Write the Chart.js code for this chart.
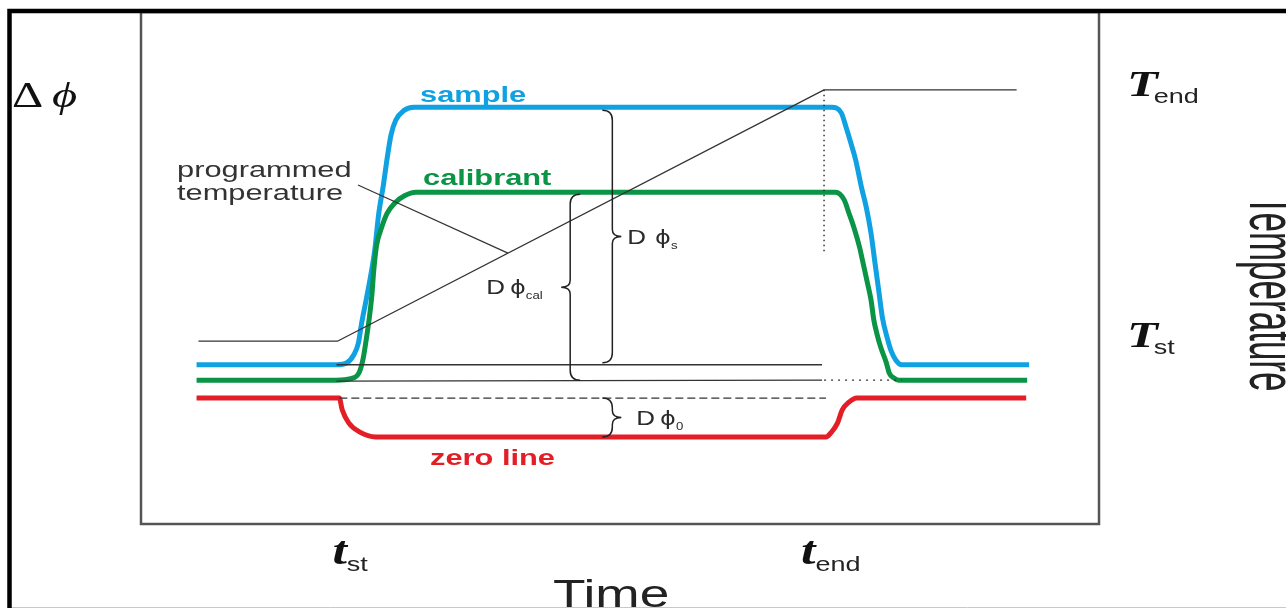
<!DOCTYPE html>
<html>
<head>
<meta charset="utf-8">
<script src="https://cdn.jsdelivr.net/npm/chart.js@4.4.1/dist/chart.umd.min.js"></script>
<style>
  html, body { margin: 0; padding: 0; background: #fff; overflow: hidden; }
  #wrap { position: relative; width: 1286px; height: 608px; }
</style>
</head>
<body>
<div id="wrap"><canvas id="dscChart"></canvas></div>
<script>
// time runs 0..100 and the heat-flow signal (delta phi) 0..100, arbitrary units
const sampleT = [5.8, 20.4, 21.5, 22.2, 22.7, 23.0, 23.4, 23.9, 24.4, 24.8, 25.3, 25.7, 26.1, 26.6, 27.4, 28.5,
                 72.1, 73.1, 73.6, 74.1, 74.6, 75.2, 75.7, 76.2, 76.6, 77.0, 77.4, 77.9, 78.3, 78.8, 79.4, 92.7];
const sampleDphi = [31.1, 31.1, 31.5, 33.0, 35.4, 38.9, 42.8, 47.7, 53.5, 60.4, 66.2, 71.5, 76.0, 78.9, 80.7, 81.4,
                    81.4, 80.3, 77.5, 74.4, 71.1, 65.8, 61.9, 56.8, 51.2, 45.7, 40.2, 36.3, 33.8, 32.0, 31.1, 31.1];

const calT = [5.8, 20.4, 21.9, 22.8, 23.2, 23.5, 23.8, 24.1, 24.3, 24.6, 25.1, 25.7, 26.5, 27.5, 28.7,
              72.5, 73.4, 73.9, 74.4, 75.0, 75.3, 75.8, 76.2, 76.5, 76.8, 77.2, 77.8, 78.1, 78.6, 79.1, 92.5];
const calDphi = [28.1, 28.1, 28.4, 29.7, 32.4, 35.9, 39.8, 44.7, 49.6, 54.5, 57.8, 60.7, 62.7, 64.1, 64.8,
                 64.8, 63.3, 60.7, 58.0, 54.1, 51.6, 47.3, 43.8, 39.8, 37.3, 34.6, 31.5, 29.5, 28.5, 28.1, 28.1];

const zeroT = [5.8, 20.7, 21.0, 21.7, 22.8, 24.5, 71.5, 72.1, 72.7, 73.2, 73.9, 74.7, 92.4];
const zeroDphi = [24.6, 24.6, 22.3, 19.7, 18.0, 17.0, 17.0, 18.0, 19.7, 22.3, 23.8, 24.6, 24.6];

// programmed temperature, plotted on the same vertical scale
const tempT = [6.0, 20.5, 71.3, 91.4];
const tempLevel = [35.7, 35.7, 84.8, 84.8];

// start / end of the heating ramp, used for the t and T tick labels
const timeTickValues = [20.5, 71.3];
const timeTickSubs = ['st', 'end'];
const tempTickValues = [35.7, 84.8];
const tempTickSubs = ['st', 'end'];

const SX = 1.4;
const SANS = "'Liberation Sans', Arial, sans-serif";
const SERIF = "'Liberation Serif', 'DejaVu Serif', serif";
const INK = '#2a2a2a';

function pts(xs, ys) {
  return xs.map((x, i) => ({ x: x, y: ys[i] }));
}

function drawText(ctx, str, x, y, font, color, sx) {
  const k = sx || SX;
  ctx.save();
  ctx.font = font;
  ctx.fillStyle = color;
  ctx.textAlign = 'left';
  ctx.textBaseline = 'alphabetic';
  ctx.translate(x, y);
  ctx.scale(k, 1);
  ctx.fillText(str, 0, 0);
  const w = ctx.measureText(str).width * k;
  ctx.restore();
  return w;
}

// curly brace; dir = 1 puts the point on the right, -1 on the left
function brace(ctx, x, yTop, yBot, dir) {
  const c = 10, mid = (yTop + yBot) / 2;
  ctx.beginPath();
  ctx.moveTo(x - dir * c, yTop);
  ctx.quadraticCurveTo(x, yTop, x, yTop + c);
  ctx.lineTo(x, mid - 7);
  ctx.quadraticCurveTo(x, mid, x + dir * 9, mid);
  ctx.quadraticCurveTo(x, mid, x, mid + 7);
  ctx.lineTo(x, yBot - c);
  ctx.quadraticCurveTo(x, yBot, x - dir * c, yBot);
  ctx.stroke();
  return mid;
}

function dphiLabel(ctx, x, y, sub, gap) {
  let w = drawText(ctx, 'D', x, y, '20px ' + SANS, INK, 1.3);
  const px = x + w + gap;
  w = drawText(ctx, '\u03D5', px, y, "20px 'DejaVu Sans', sans-serif", INK, 1.2);
  drawText(ctx, sub, px + w, y + 5, '11px ' + SANS, INK, 1.2);
}

function interp(xs, ys, v) {
  for (let i = 1; i < xs.length; i++) {
    if (v <= xs[i]) {
      const f = (v - xs[i - 1]) / (xs[i] - xs[i - 1]);
      return ys[i - 1] + f * (ys[i] - ys[i - 1]);
    }
  }
  return ys[ys.length - 1];
}

const dscAnnotations = {
  id: 'dscAnnotations',
  beforeDraw(chart) {
    const ctx = chart.ctx;
    const a = chart.chartArea;
    ctx.save();
    // page frame
    ctx.strokeStyle = '#c8c8c8';
    ctx.lineWidth = 1;
    ctx.beginPath();
    ctx.moveTo(12, 607.5);
    ctx.lineTo(1286, 607.5);
    ctx.stroke();
    // plot box
    ctx.strokeStyle = '#555';
    ctx.lineWidth = 2.5;
    ctx.strokeRect(a.left, a.top, a.right - a.left, a.bottom - a.top);
    ctx.strokeStyle = '#000';
    ctx.lineWidth = 4.5;
    ctx.beginPath();
    ctx.moveTo(9.5, 608);
    ctx.lineTo(9.5, 11);
    ctx.lineTo(1286, 11);
    ctx.stroke();
    ctx.restore();
  },
  afterDatasetsDraw(chart) {
    const ctx = chart.ctx;
    const xs = chart.scales.x, ys = chart.scales.y;
    const X = v => xs.getPixelForValue(v);
    const Y = v => ys.getPixelForValue(v);

    const sBase = sampleDphi[0], sTop = Math.max(...sampleDphi);
    const cBase = calDphi[0], cTop = Math.max(...calDphi);
    const zBase = zeroDphi[0], zLow = Math.min(...zeroDphi);
    const tEnd = timeTickValues[1];

    ctx.save();
    ctx.strokeStyle = '#333';
    ctx.lineWidth = 1.3;

    // baselines carried across the ramp
    ctx.beginPath();
    ctx.moveTo(X(sampleT[1]), Y(sBase));
    ctx.lineTo(X(tEnd) - 2, Y(sBase));
    ctx.moveTo(X(calT[1]), Y(cBase) + 1);
    ctx.lineTo(X(tEnd) - 2, Y(cBase));
    ctx.stroke();

    ctx.setLineDash([2, 5]);
    ctx.beginPath();
    ctx.moveTo(X(tEnd), Y(cBase));
    ctx.lineTo(X(calT[calT.length - 2]) + 3, Y(cBase));
    ctx.stroke();

    ctx.setLineDash([8, 4]);
    ctx.beginPath();
    ctx.moveTo(X(zeroT[1]), Y(zBase));
    ctx.lineTo(X(zeroT[6]), Y(zBase));
    ctx.stroke();

    // end of heating marker
    ctx.setLineDash([1.5, 3.5]);
    ctx.lineWidth = 1.5;
    ctx.beginPath();
    ctx.moveTo(X(tEnd), Y(tempLevel[2]));
    ctx.lineTo(X(tEnd), Y(53));
    ctx.stroke();
    ctx.setLineDash([]);

    // pointer to the temperature ramp
    ctx.lineWidth = 1.2;
    ctx.beginPath();
    ctx.moveTo(358, 185);
    ctx.lineTo(X(38.3), Y(interp(tempT, tempLevel, 38.3)));
    ctx.stroke();

    // braces
    ctx.strokeStyle = '#222';
    ctx.lineWidth = 1.5;
    const bs = brace(ctx, X(49.2), Y(sTop) + 3, Y(sBase) - 2, 1);
    const bc = brace(ctx, X(44.8), Y(cTop) + 2, Y(cBase), -1);
    const bz = brace(ctx, X(49.2), Y(zBase), Y(zLow), 1);
    ctx.restore();

    dphiLabel(ctx, X(49.2) + 15, bs + 7, 's', 9);
    dphiLabel(ctx, X(44.8) - 84, bc + 7, 'cal', 5);
    dphiLabel(ctx, X(49.2) + 24, bz + 7, '0', 5);

    // curve names
    drawText(ctx, 'sample', 420, 102, 'bold 22px ' + SANS, '#0FA1E2');
    drawText(ctx, 'calibrant', 423, 185, 'bold 22px ' + SANS, '#0A9446');
    drawText(ctx, 'zero line', 430, 465, 'bold 22px ' + SANS, '#E41E26');
    drawText(ctx, 'programmed', 177, 177, '22px ' + SANS, '#333');
    drawText(ctx, 'temperature', 177, 200, '22px ' + SANS, '#333');
  },
  afterDraw(chart) {
    const ctx = chart.ctx;
    const xs = chart.scales.x, ys = chart.scales.y;

    // signal axis symbol
    drawText(ctx, '\u0394', 12, 107, '36px ' + SERIF, '#111', 1.35);
    drawText(ctx, '\u03D5', 52, 107, 'italic 36px ' + SERIF, '#111', 1.35);

    // time ticks t_st, t_end
    const tOff = [-5, -23];
    timeTickValues.forEach((v, i) => {
      const x = xs.getPixelForValue(v) + tOff[i];
      const w = drawText(ctx, 't', x, 564, 'bold italic 40px ' + SERIF, '#111', 1.3);
      drawText(ctx, timeTickSubs[i], x + w, 571, '20px ' + SANS, '#222', 1.35);
    });

    // temperature ticks T_st, T_end
    tempTickValues.forEach((v, i) => {
      const y = ys.getPixelForValue(v);
      const w = drawText(ctx, 'T', 1127, y + 6, 'bold italic 36px ' + SERIF, '#111', 1.4);
      drawText(ctx, tempTickSubs[i], 1127 + w - 4, y + 13, '20px ' + SANS, '#222', 1.35);
    });

    drawText(ctx, 'Time', 553, 607, '38px ' + SANS, '#222', 1.4);

    ctx.save();
    ctx.font = '35px ' + SANS;
    ctx.fillStyle = '#222';
    ctx.textBaseline = 'alphabetic';
    ctx.translate(1250, 195);
    ctx.rotate(Math.PI / 2);
    ctx.scale(1, 1.9);
    ctx.fillText('Temperature', 0, 0);
    ctx.restore();
  }
};

const ctx = document.getElementById('dscChart').getContext('2d');
new Chart(ctx, {
  type: 'line',
  data: {
    datasets: [
      { label: 'programmed temperature', data: pts(tempT, tempLevel), borderColor: '#333', borderWidth: 1.3, tension: 0 },
      { label: 'zero line', data: pts(zeroT, zeroDphi), borderColor: '#E41E26', borderWidth: 5, cubicInterpolationMode: 'monotone' },
      { label: 'calibrant', data: pts(calT, calDphi), borderColor: '#0A9446', borderWidth: 5, cubicInterpolationMode: 'monotone' },
      { label: 'sample', data: pts(sampleT, sampleDphi), borderColor: '#0FA1E2', borderWidth: 5, cubicInterpolationMode: 'monotone' }
    ]
  },
  options: {
    responsive: true,
    maintainAspectRatio: false,
    animation: false,
    layout: { padding: { left: 141, right: 187, top: 12, bottom: 84 } },
    elements: { point: { radius: 0 }, line: { borderJoinStyle: 'round', fill: false } },
    scales: {
      x: { type: 'linear', min: 0, max: 100, display: false },
      y: { type: 'linear', min: 0, max: 100, display: false }
    },
    plugins: {
      legend: { display: false },
      tooltip: { enabled: false }
    }
  },
  plugins: [dscAnnotations]
});
</script>
</body>
</html>
